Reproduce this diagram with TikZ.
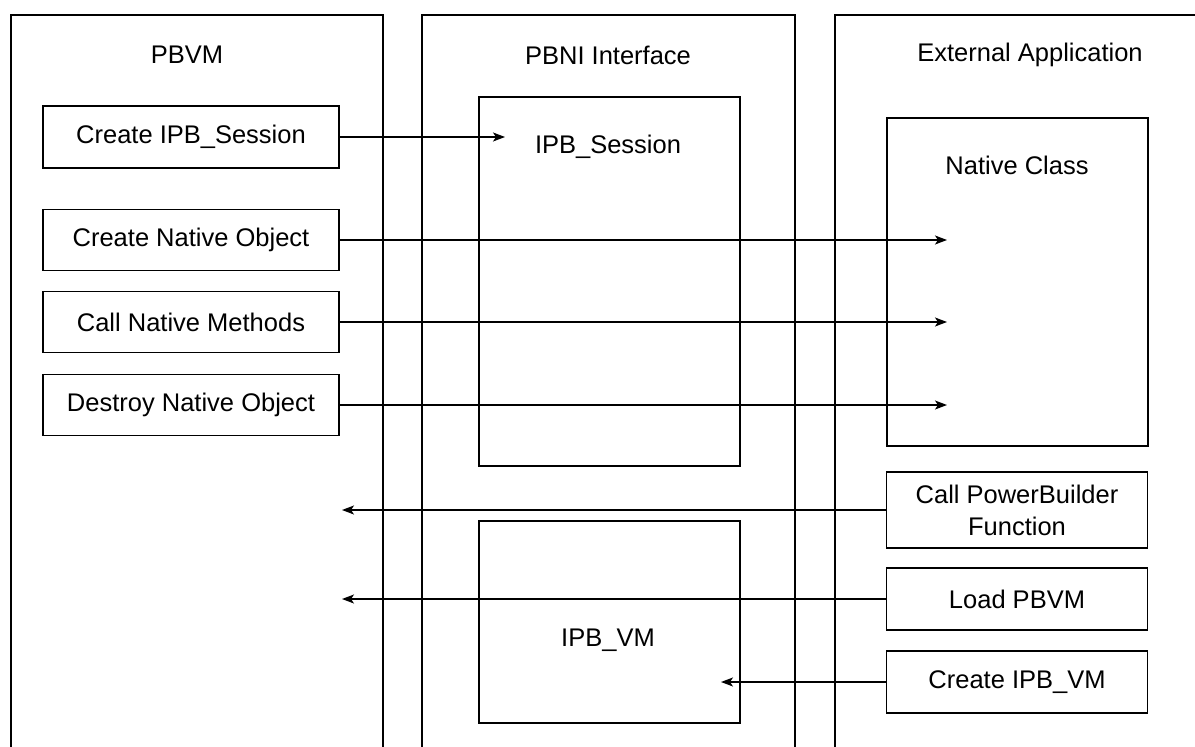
\documentclass[tikz,border=0pt]{standalone}
\usepackage{fontspec}
\setmainfont{Liberation Sans}
\usetikzlibrary{arrows.meta,positioning}
\tikzset{box/.style={shape=rectangle, draw, fill=white, inner sep=1mm,
    minimum width=296pt, minimum height=62pt, align=center}}
\tikzset{rbox/.style={box, minimum width=261pt}}
\tikzset{every node/.style={font=\fontsize{25.5}{32}\selectfont}}

\begin{document}
\begin{tikzpicture}[>={Stealth[length=12pt,width=9pt,inset=3pt]}, x=1pt, y=-1pt, line width=1.4pt]
    \tikzstyle{every edge}=[draw,->]
    \useasboundingbox (0,0) rectangle (1195,747);
    % columns
    \draw (11,760) -- (11,15) -- (383,15) -- (383,760);
    \draw (422,760) -- (422,15) -- (795,15) -- (795,760);
    \draw (835,760) -- (835,15) -- (1210,15);
    \node (pbvm) at (187,55) {PBVM};
    \node (pbni) at (608,55) {PBNI Interface};
    \node (ext) at (1030,55) {External Application};
    % PBNI boxes
    \draw (479,97) rectangle (740,466);
    \node (sess) at (608,147) {IPB\_Session};
    \draw (479,521) rectangle (740,723);
    \node (vm) at (608,640) {IPB\_VM};
    % native class
    \draw (887,118) rectangle (1148,446);
    \node (ncls) at (1017,165) {Native Class};
    % PBVM side
    \node[box] (csess) at (191,137) {Create IPB\_Session};
    \node[box, minimum height=61pt] (cobj) at (191,240) {Create Native Object};
    \node[box, minimum height=61pt] (call) at (191,322) {Call Native Methods};
    \node[box, minimum height=61pt] (dobj) at (191,405) {Destroy Native Object};
    % external side
    \node[rbox, minimum height=76pt] (cpbf) at (1017,510) {Call PowerBuilder\\Function};
    \node[rbox] (load) at (1017,599) {Load PBVM};
    \node[rbox] (cvm) at (1017,682) {Create IPB\_VM};
    \coordinate (s1) at (505,137);
    \coordinate (n1) at (947,240);
    \coordinate (n2) at (947,322);
    \coordinate (n3) at (947,405);
    \coordinate (p1) at (342,510);
    \coordinate (p2) at (342,599);
    \coordinate (v1) at (721,682);
    \path (csess) edge (s1);
    \path (cobj) edge (n1);
    \path (call) edge (n2);
    \path (dobj) edge (n3);
    \path (cpbf) edge (p1);
    \path (load) edge (p2);
    \path (cvm) edge (v1);
\end{tikzpicture}
\end{document}
